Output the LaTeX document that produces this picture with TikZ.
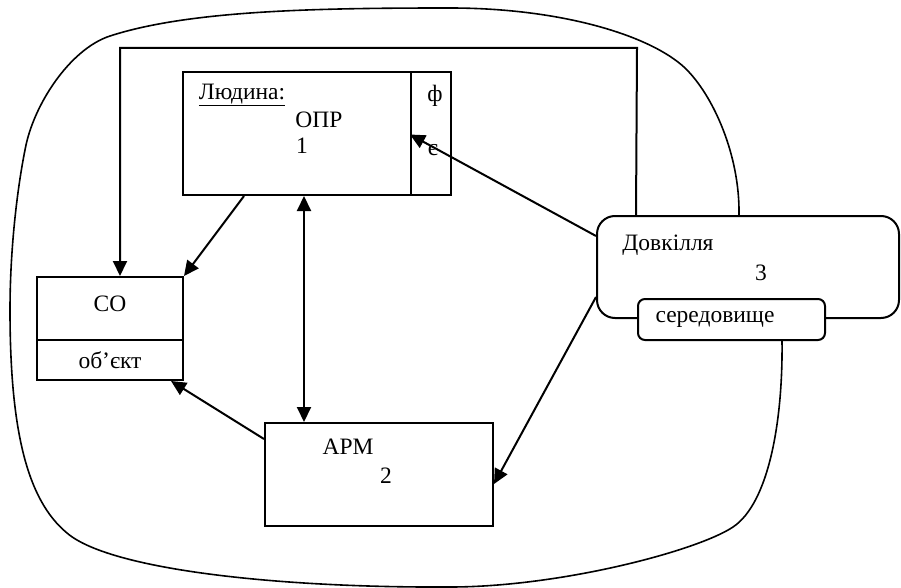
\documentclass[tikz,border=0pt]{standalone}
\usepackage{fontspec}
\setmainfont{Liberation Serif}
\usetikzlibrary{arrows.meta,calc}

\tikzset{
  box/.style={draw, minimum width=#1, inner sep=0pt},
  rbox/.style={draw, fill=white, rounded corners=#1, inner sep=0pt},
  lbl/.style={inner sep=0pt}
}

\begin{document}
\begin{tikzpicture}[x=1pt,y=-1pt,line width=2pt,
  >={Triangle[length=15pt,width=14pt]},
  font=\fontsize{23.5}{27}\selectfont]
\useasboundingbox (0,0) rectangle (901,588);

% boxes
\node[box=228, minimum height=123] (lyud) at (297,133.5) {};
\node[box=40, minimum height=123] (side) at (431,133.5) {};
\node[box=146, minimum height=63] (co) at (110,308.5) {};
\node[box=146, minimum height=40] (cob) at (110,360) {};
\node[box=228, minimum height=103] (arm) at (379,474.5) {};
\node[rbox=18, minimum width=302, minimum height=102] (dovk) at (748,267) {};
\node[rbox=7, minimum width=187, minimum height=41] (ser) at (731.5,319.5) {};

% texts
\node[lbl] (t1) at (242,95) {\underline{Людина:}};
\node[lbl] (t2) at (319,120) {ОПР};
\node[lbl] (t3) at (302,146) {1};
\node[lbl] (t4) at (435,96) {ф};
\node[lbl] (t5) at (433,150) {є};
\node[lbl] (t6) at (110,304) {СО};
\node[lbl] (t7) at (110,360) {об’єкт};
\node[lbl] (t8) at (348,447) {АРМ};
\node[lbl] (t9) at (386,476) {2};
\node[lbl] (t10) at (668,245) {Довкілля};
\node[lbl] (t11) at (761,273) {3};
\node[lbl] (t12) at (715,319) {середовище};

% connectors
\coordinate (tr) at (637,48);
\coordinate (tl) at (120,48);
\draw[->] ($(dovk.north west)+(40,0)$) -- (tr) -- (tl) -- ($(co.north)+(10,0)$);
\draw[->] ($(lyud.south west)+(62,0)$) -- (co.north east);
\draw[<->] ($(lyud.south west)+(122,0)$) -- ($(arm.north west)+(40,0)$);
\draw[->] ($(arm.north west)+(0,17)$) -- ($(cob.south east)+(-13,0)$);
\draw[->] ($(dovk.north west)+(0,21)$) -- ($(side.west)+(0,1)$);
\draw[->] ($(dovk.north west)+(0,82)$) -- ($(arm.north east)+(0,62)$);

% outer boundary
\coordinate (bs) at ($(dovk.north west)+(143,0)$);
\coordinate (be) at ($(ser.south west)+(145,0)$);
\draw[line width=1.6pt] (bs)
  .. controls (740,155) and (713,95) .. (685,68)
  .. controls (650,35) and (560,8) .. (450,8)
  .. controls (320,8) and (190,10) .. (110,36)
  .. controls (70,49) and (33,105) .. (25,150)
  .. controls (17,190) and (10,250) .. (10,310)
  .. controls (10,430) and (27,500) .. (67,533)
  .. controls (110,570) and (280,588) .. (450,587)
  .. controls (560,587) and (697,551) .. (733,527)
  .. controls (769,503) and (783,420) .. (be);
\end{tikzpicture}
\end{document}
